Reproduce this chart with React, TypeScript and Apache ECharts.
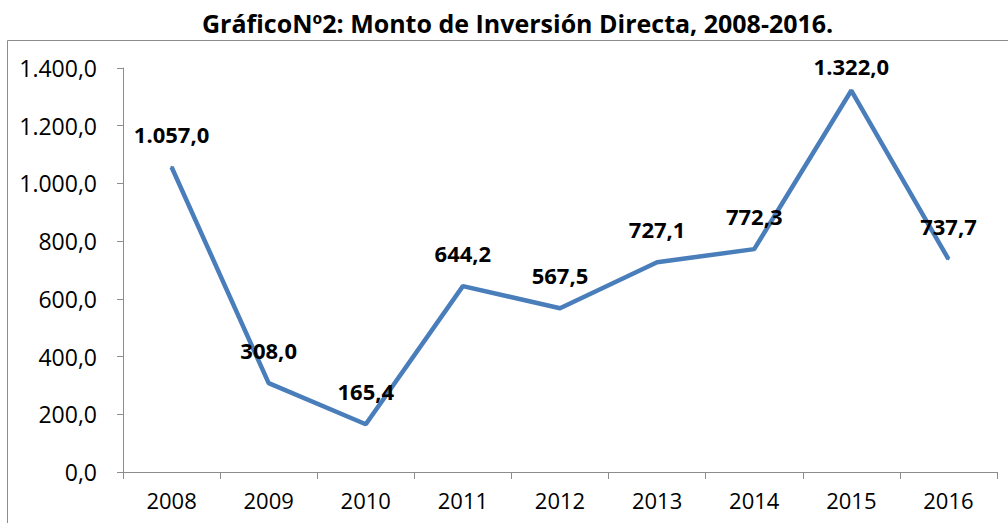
import React, { useEffect, useRef } from "react";
import * as echarts from "echarts";

const titleText = "GráficoNº2: Monto de Inversión Directa, 2008-2016.";
const years = ["2008", "2009", "2010", "2011", "2012", "2013", "2014", "2015", "2016"];
const amounts = [1057.0, 308.0, 165.4, 644.2, 567.5, 727.1, 772.3, 1322.0, 737.7];
const yMin = 0;
const yMax = 1400;
const yStep = 200;

const FONT = "'Open Sans', 'Noto Sans', sans-serif";

function fmt(v: number): string {
  const [intPart, dec] = v.toFixed(1).split(".");
  const withDots = intPart.replace(/\B(?=(\d{3})+(?!\d))/g, ".");
  return withDots + "," + dec;
}

export default function App() {
  const ref = useRef<HTMLDivElement>(null);

  useEffect(() => {
    if (!ref.current) return;
    const chart = echarts.init(ref.current, null, { renderer: "svg" });
    const maxIdx = amounts.indexOf(Math.max(...amounts));
    chart.setOption({
      animation: false,
      backgroundColor: "#ffffff",
      title: {
        text: titleText,
        left: 197,
        top: 5,
        textStyle: {
          fontFamily: FONT,
          fontWeight: "bold",
          fontSize: 25,
          color: "#000000",
        },
      },
      graphic: [
        {
          type: "rect",
          shape: { x: 7.5, y: 40.5, width: 1020, height: 520 },
          style: { fill: "none", stroke: "#8c8c8c", lineWidth: 1 },
          silent: true,
          z: -1,
        },
      ],
      grid: { left: 123, right: 11, top: 68, bottom: 51 },
      xAxis: {
        type: "category",
        data: years,
        boundaryGap: true,
        axisLine: { show: true, lineStyle: { color: "#8c8c8c", width: 1 } },
        axisTick: { show: true, length: 7, inside: false, lineStyle: { color: "#8c8c8c" } },
        axisLabel: {
          margin: 17,
          fontFamily: FONT,
          fontSize: 22,
          color: "#000000",
        },
        splitLine: { show: false },
      },
      yAxis: {
        type: "value",
        min: yMin,
        max: yMax,
        interval: yStep,
        axisLine: { show: true, lineStyle: { color: "#8c8c8c", width: 1 } },
        axisTick: { show: true, length: 6, inside: false, lineStyle: { color: "#8c8c8c" } },
        axisLabel: {
          margin: 26,
          fontFamily: FONT,
          fontSize: 23,
          color: "#000000",
          formatter: (v: number) => fmt(v),
        },
        splitLine: { show: false },
      },
      series: [
        {
          type: "line",
          data: amounts.map((v, i) =>
            i === maxIdx ? { value: v, label: { distance: 13 } } : v
          ),
          showSymbol: true,
          showAllSymbol: true,
          symbol: "circle",
          symbolSize: 2,
          itemStyle: { color: "#4a7ebb", borderWidth: 0 },
          lineStyle: { color: "#4a7ebb", width: 4.5 },
          label: {
            show: true,
            position: "top",
            distance: 21,
            opacity: 1,
            fontFamily: FONT,
            fontWeight: "bold",
            fontSize: 22,
            color: "#000000",
            formatter: (p: any) => fmt(p.value),
          },
          labelLayout: { hideOverlap: false },
        },
      ],
    });
    return () => chart.dispose();
  }, []);

  return (
    <div
      ref={ref}
      style={{ position: "fixed", left: 0, top: 0, width: 1008, height: 523 }}
    />
  );
}
